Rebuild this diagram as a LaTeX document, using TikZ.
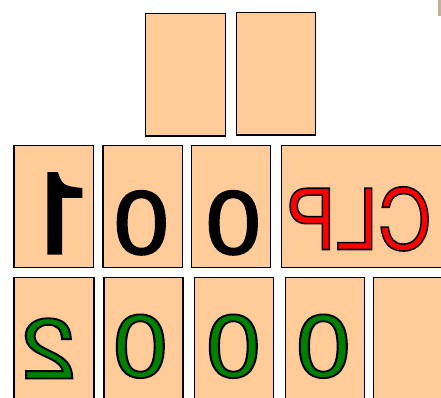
\documentclass[tikz,border=0pt]{standalone}
\usepackage{fontspec}
\setmainfont{TeX Gyre Heros}
\definecolor{peach}{RGB}{255,204,153}
\definecolor{dgreen}{RGB}{0,128,0}
\definecolor{tanbit}{RGB}{196,178,150}
\newcommand{\outlinetext}[3]{{\color{#1}\special{pdf:literal direct 0 G #2 w 2 Tr}#3\special{pdf:literal direct 0 Tr}}}
\tikzset{
  card/.style={draw=black, line width=1.2pt, fill=peach, inner sep=0pt, outer sep=0pt},
  glyph/.style={inner sep=0pt, outer sep=0pt, anchor=base, transform shape},
}
\begin{document}
\begin{tikzpicture}[x=1pt,y=1pt]
\useasboundingbox (0,0) rectangle (441,-397);
\clip (0,0) rectangle (441,-397);
\fill[tanbit] (438,0) rectangle (441,-16);
% top row
\node[card, minimum width=80pt, minimum height=122.3pt] (t1) at (185.4,-74.8) {};
\node[card, minimum width=79pt, minimum height=122.3pt] (t2) at (276.2,-73.9) {};
% middle row
\node[card, minimum width=79.3pt, minimum height=122pt] (m1) at (53.7,-206.7) {};
\node[card, minimum width=79.3pt, minimum height=122pt] (m2) at (142.7,-206.7) {};
\node[card, minimum width=79.1pt, minimum height=122pt] (m3) at (230.7,-206.7) {};
\node[card, minimum width=188pt, minimum height=122pt] (m4) at (375.5,-206.7) {};
% bottom row
\node[card, minimum width=80pt, minimum height=122pt] (b1) at (54,-338.8) {};
\node[card, minimum width=79pt, minimum height=122pt] (b2) at (143.5,-338.8) {};
\node[card, minimum width=79pt, minimum height=122pt] (b3) at (233.8,-338.8) {};
\node[card, minimum width=79.2pt, minimum height=122pt] (b4) at (325,-338.8) {};
\node[card, minimum width=86pt, minimum height=122.6pt] (b5) at (416.4,-338.5) {};
% middle row text (mirrored)
\node[glyph, xscale=-1.15] (one) at (58,-253) {\fontsize{112}{112}\selectfont\outlinetext{black}{3}{1}};
\node[glyph, xscale=-1.15] (z1) at (141,-253.7) {\fontsize{89}{89}\selectfont\outlinetext{black}{1.5}{0}};
\node[glyph, xscale=-1.15] (z2) at (233,-253.7) {\fontsize{89}{89}\selectfont\outlinetext{black}{1.5}{0}};
\node[glyph, xscale=-0.89] (clp) at (359,-249.5) {\fontsize{84}{84}\selectfont\outlinetext{red}{1.6}{CLP}};
% bottom row text (mirrored)
\node[glyph, xscale=-1.15] (two) at (48.5,-378.5) {\fontsize{85}{85}\selectfont\outlinetext{dgreen}{1.8}{2}};
\node[glyph, xscale=-1.15] (g1) at (140,-376.8) {\fontsize{88}{88}\selectfont\outlinetext{dgreen}{1.8}{0}};
\node[glyph, xscale=-1.15] (g2) at (233,-376.8) {\fontsize{88}{88}\selectfont\outlinetext{dgreen}{1.8}{0}};
\node[glyph, xscale=-1.15] (g3) at (323,-376.8) {\fontsize{88}{88}\selectfont\outlinetext{dgreen}{1.8}{0}};
\end{tikzpicture}
\end{document}
